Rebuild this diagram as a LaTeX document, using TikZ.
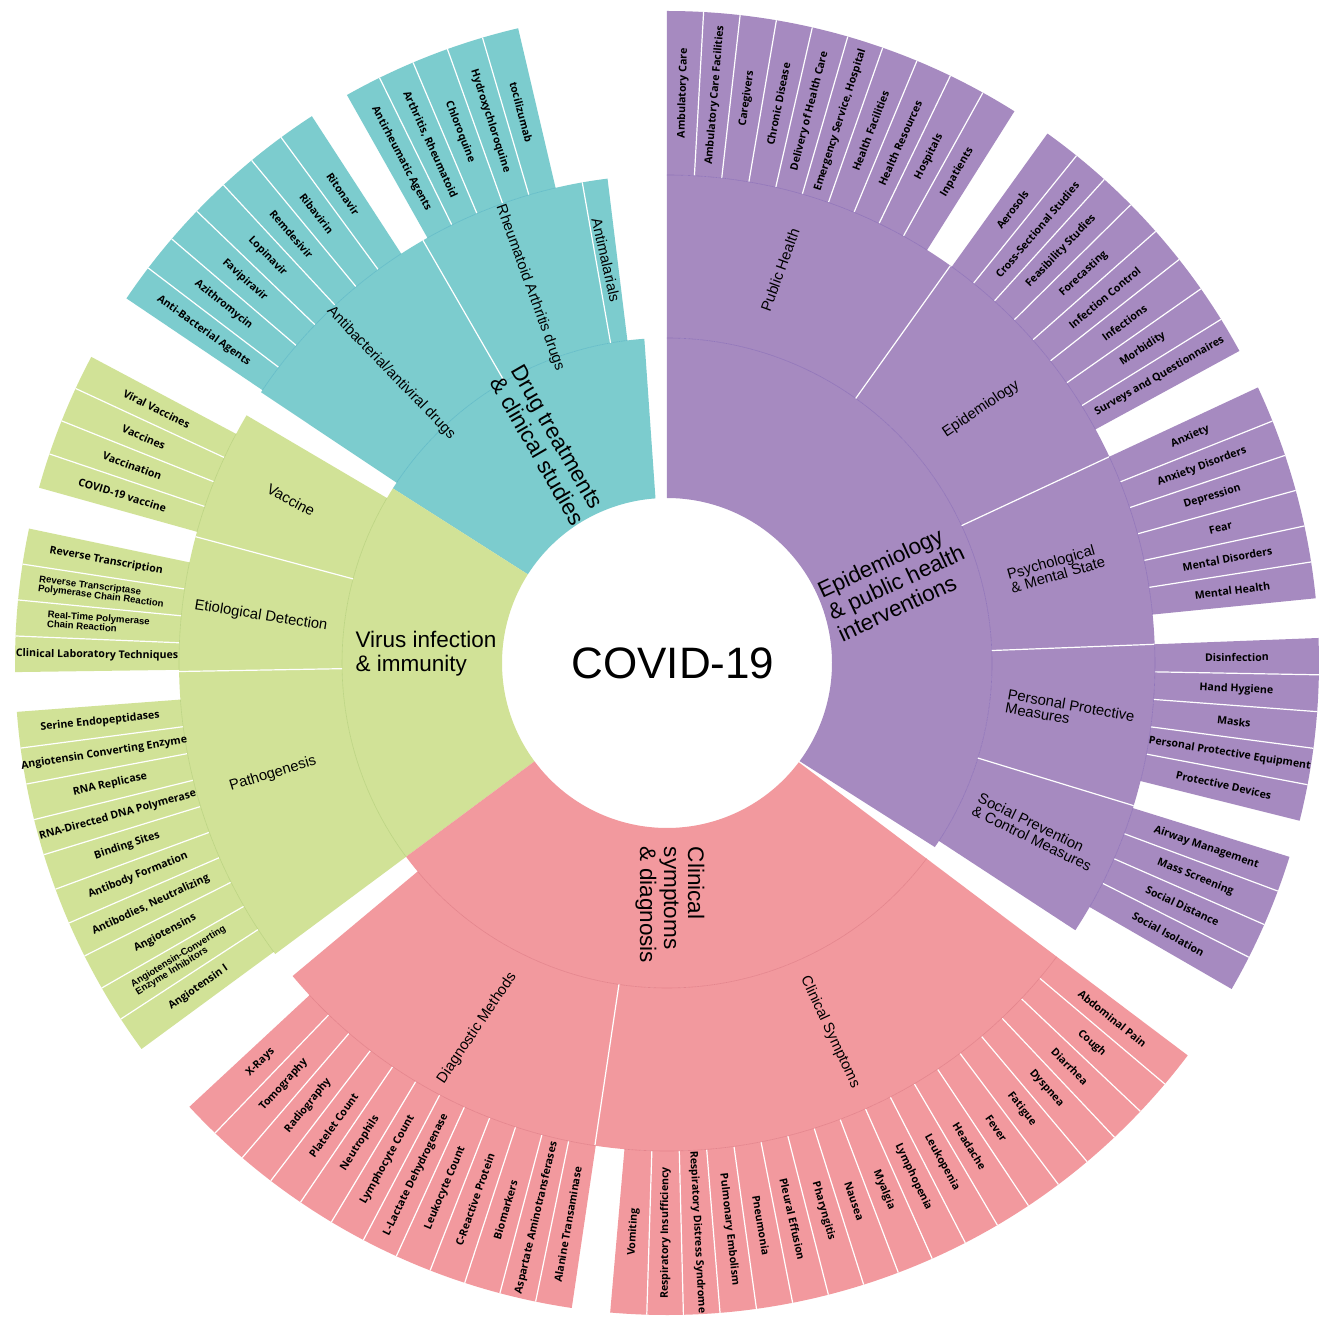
\documentclass[tikz,border=0pt]{standalone}
\usepackage{fontspec}
\setmainfont{Liberation Sans}
\newfontfamily\leaffont{Open Sans}
\newfontfamily\arialb{Liberation Sans}
\definecolor{tealc}{RGB}{124,204,206}
\definecolor{purc}{RGB}{166,138,192}
\definecolor{grnc}{RGB}{209,226,151}
\definecolor{pnkc}{RGB}{242,153,158}
\definecolor{tealD}{RGB}{100,188,200}
\definecolor{purD}{RGB}{146,118,186}
\definecolor{grnD}{RGB}{188,212,130}
\definecolor{pnkD}{RGB}{228,132,140}
% general annular sector: a1in a2in a1out a2out rin rout colour
\newcommand\ringsec[7]{\fill[#7] (#1:#5pt) arc[start angle=#1, end angle=#2, radius=#5pt] -- (#4:#6pt) arc[start angle=#4, end angle=#3, radius=#6pt] -- cycle;}
\newcommand\sect[5]{\ringsec{#1}{#2}{#1}{#2}{#3}{#4}{#5}}
\newcommand\ringarc[4]{\draw[#4, line width=0.6pt] (#1:#3pt) arc[start angle=#1, end angle=#2, radius=#3pt];}
\newcommand\radsep[3]{\draw[sepline] (#1:#2pt) -- (#1:#3pt);}
\newcommand\twol[2]{{\arialb\bfseries\fontsize{9.6}{9.6}\selectfont\renewcommand{\arraystretch}{0.8}\begin{tabular}{@{}l@{}}#1\\#2\end{tabular}}}
\tikzset{
  leaf/.style={font=\leaffont\bfseries\fontsize{10.6}{11}\selectfont, align=center, inner sep=0pt, text=black},
  lvltwo/.style={font=\fontsize{14.8}{14}\selectfont, align=left, inner sep=0pt},
  lvlone/.style={font=\fontsize{22.5}{24}\selectfont, align=left, inner sep=0pt},
  sepline/.style={white, line width=1.2pt},
}
% #1 prefix, #2 first angle, #3 last angle, #4 count, #5 fill, #6 arc colour, #7 labels
\newcommand\leafgroup[7]{%
  \pgfmathsetmacro\lgstep{(#3-#2)/#4}%
  \pgfmathtruncatemacro\lgnm{#4-1}%
  \sect{#2}{#3}{488}{652}{#5}
  \foreach \k in {1,...,\lgnm}{\pgfmathsetmacro\lga{#2+\k*\lgstep}\draw[sepline] (\lga:488pt) -- (\lga:652pt);}
  \ringarc{#2}{#3}{488}{#6}
  \foreach \lab [count=\i] in {#7}{%
    \pgfmathsetmacro\lgmid{#2+(\i-0.5)*\lgstep}%
    \pgfmathsetmacro\lgrot{cos(\lgmid)>0.001 ? \lgmid : \lgmid+180}%
    \node[leaf, rotate=\lgrot] (#1\i) at (\lgmid:570pt) {\lab};}%
}
\begin{document}
\begin{tikzpicture}
\fill[white] (-667pt,-654pt) rectangle (658pt,663pt);
\useasboundingbox (-667pt,-654pt) rectangle (658pt,663pt);
% ---------- level 1 ----------
\ringsec{-36.5}{90}{-34.5}{90}{165}{325}{purc}
\sect{94}{147.5}{165}{325}{tealc}
\sect{147.5}{216.6}{165}{325}{grnc}
\sect{216.6}{323}{165}{325}{pnkc}
% ---------- level 2 ----------
\sect{-33.2}{90}{325}{488}{purc}
\sect{97}{146.3}{325}{488}{tealc}
\sect{149.5}{216.6}{325}{488}{grnc}
\sect{219.9}{323}{325}{488}{pnkc}
\ringarc{-33.2}{90}{325}{purD}
\ringarc{97}{146.3}{325}{tealD}
\ringarc{149.5}{216.6}{325}{grnD}
\ringarc{219.9}{323}{325}{pnkD}
\radsep{54.5}{325}{488}
\radsep{25}{325}{488}
\radsep{2.2}{325}{488}
\radsep{-17}{325}{488}
\radsep{100}{325}{488}
\radsep{120}{325}{488}
\radsep{165}{325}{488}
\radsep{181}{325}{488}
\radsep{261.5}{325}{488}
% ---------- leaves ----------
\leafgroup{ph}{90}{57.8}{10}{purc}{purD}{Ambulatory Care, Ambulatory Care Facilities, Caregivers, Chronic Disease, Delivery of Health Care, {Emergency Service, Hospital}, Health Facilities, Health Resources, Hospitals, Inpatients}
\leafgroup{ep}{54.3}{28.6}{8}{purc}{purD}{Aerosols, Cross-Sectional Studies, Feasibility Studies, Forecasting, Infection Control, Infections, Morbidity, Surveys and Questionnaires}
\leafgroup{ps}{25}{5.7}{6}{purc}{purD}{Anxiety, Anxiety Disorders, Depression, Fear, Mental Disorders, Mental Health}
\leafgroup{pp}{2.2}{-14}{5}{purc}{purD}{Disinfection, Hand Hygiene, Masks, Personal Protective Equipment, Protective Devices}
\leafgroup{sp}{-17.3}{-30}{4}{purc}{purD}{Airway Management, Mass Screening, Social Distance, Social Isolation}
\leafgroup{cs}{323}{265}{18}{pnkc}{pnkD}{Abdominal Pain, Cough, Diarrhea, Dyspnea, Fatigue, Fever, Headache, Leukopenia, Lymphopenia, Myalgia, Nausea, Pharyngitis, Pleural Effusion, Pneumonia, Pulmonary Embolism, Respiratory Distress Syndrome, Respiratory Insufficiency, Vomiting}
\leafgroup{dm}{261.6}{222.9}{12}{pnkc}{pnkD}{Alanine Transaminase, Aspartate Aminotransferases, Biomarkers, C-Reactive Protein, Leukocyte Count, L-Lactate Dehydrogenase, Lymphocyte Count, Neutrophils, Platelet Count, Radiography, Tomography, X-Rays}
\leafgroup{pa}{184.3}{216.3}{10}{grnc}{grnD}{Serine Endopeptidases, Angiotensin Converting Enzyme, RNA Replicase, RNA-Directed DNA Polymerase, Binding Sites, Antibody Formation, {Antibodies, Neutralizing}, Angiotensins, \twol{Angiotensin-Converting}{Enzyme Inhibitors}, Angiotensin I}
\leafgroup{et}{168.1}{180.8}{4}{grnc}{grnD}{Reverse Transcription, \twol{Reverse Transcriptase}{Polymerase Chain Reaction}, \twol{Real-Time Polymerase}{Chain Reaction}, Clinical Laboratory Techniques}
\leafgroup{va}{152}{164.4}{4}{grnc}{grnD}{Viral Vaccines, Vaccines, Vaccination, COVID-19 vaccine}
\leafgroup{ab}{146}{123}{7}{tealc}{tealD}{Anti-Bacterial Agents, Azithromycin, Favipiravir, Lopinavir, Remdesivir, Ribavirin, Ritonavir}
\leafgroup{ra}{119.4}{103.2}{5}{tealc}{tealD}{Antirheumatic Agents, {Arthritis, Rheumatoid}, Chloroquine, Hydroxychloroquine, tocilizumab}
% ---------- level 2 labels ----------
\node[lvltwo, rotate=70] (l2ph) at (113pt,393pt) {Public Health};
\node[lvltwo, rotate=34] (l2ep) at (314pt,254pt) {Epidemiology};
\node[lvltwo, rotate=16] (l2ps) at (389pt,95pt) {Psychological\\\& Mental State};
\node[lvltwo, rotate=-10] (l2pp) at (403pt,-49pt) {Personal Protective\\Measures};
\node[lvltwo, rotate=-26] (l2sp) at (368pt,-169pt) {Social Prevention\\\& Control Measures};
\node[lvltwo, rotate=-46] (l2ab) at (-276pt,290pt) {Antibacterial/antiviral drugs};
\node[lvltwo, rotate=-70] (l2ra) at (-137pt,375pt) {Rheumatoid Arthritis drugs};
\node[lvltwo, rotate=-77] (l2am) at (-61pt,403pt) {Antimalarials};
\node[lvltwo, rotate=-28] (l2va) at (-376pt,163pt) {Vaccine};
\node[lvltwo, rotate=-9] (l2et) at (-406pt,47pt) {Etiological Detection};
\node[lvltwo, rotate=17] (l2pa) at (-394pt,-111pt) {Pathogenesis};
\node[lvltwo, rotate=56] (l2dm) at (-190pt,-365pt) {Diagnostic Methods};
\node[lvltwo, rotate=-65] (l2cs) at (163pt,-369pt) {Clinical Symptoms};
% ---------- level 1 labels ----------
\node[lvlone, rotate=25] (l1ep) at (229pt,81pt) {Epidemiology\\\& public health\\interventions};
\node[lvlone, rotate=-60] (l1dr) at (-119pt,218pt) {Drug treatments\\\& clinical studies};
\node[lvlone] (l1vi) at (-241pt,9pt) {Virus infection\\\& immunity};
\node[lvlone, rotate=-90] (l1cl) at (3pt,-242pt) {Clinical\\symptoms\\\& diagnosis};
\node[font=\fontsize{44}{44}\selectfont, inner sep=0pt] (covid) at (6pt,0pt) {COVID-19};
\end{tikzpicture}
\end{document}
